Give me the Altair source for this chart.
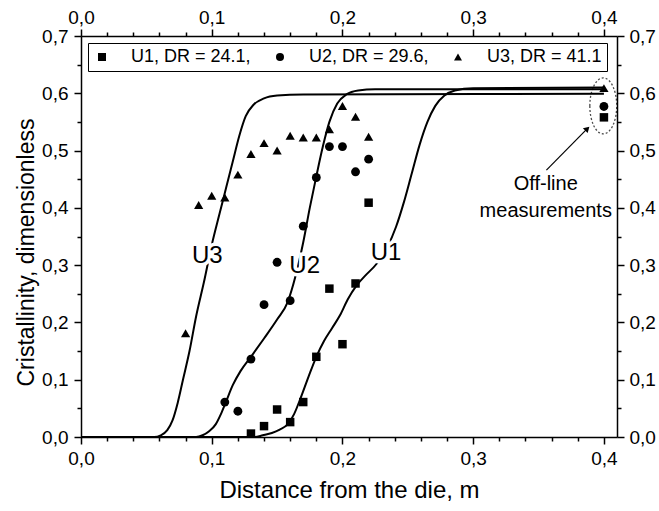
import altair as alt
import pandas as pd

FONT = "Liberation Sans"

# ---------------- measured points ----------------
u1_x = [0.13, 0.14, 0.15, 0.16, 0.17, 0.18, 0.19, 0.20, 0.21, 0.22]
u1_y = [0.006, 0.019, 0.048, 0.026, 0.061, 0.140, 0.259, 0.162, 0.268, 0.409]
u2_x = [0.11, 0.12, 0.13, 0.14, 0.15, 0.16, 0.17, 0.18, 0.19, 0.20, 0.21, 0.22]
u2_y = [0.061, 0.045, 0.136, 0.231, 0.305, 0.238, 0.368, 0.453, 0.507, 0.507, 0.463, 0.485]
u3_x = [0.08, 0.09, 0.10, 0.11, 0.12, 0.13, 0.14, 0.15, 0.16, 0.17, 0.18, 0.19, 0.20, 0.21, 0.22]
u3_y = [0.181, 0.405, 0.421, 0.418, 0.458, 0.494, 0.513, 0.500, 0.526, 0.523, 0.523, 0.537, 0.578, 0.559, 0.524]
offline_x = [0.40, 0.40, 0.40]
offline_y = [0.558, 0.577, 0.609]

# ---------------- model curves ----------------
c1_x = [0.0, 0.133, 0.139, 0.146, 0.152, 0.158, 0.163, 0.168, 0.174, 0.180, 0.186, 0.192, 0.198,
        0.204, 0.211, 0.218, 0.226, 0.234, 0.241, 0.247, 0.253, 0.259, 0.265, 0.271, 0.278,
        0.286, 0.300, 0.400]
c1_y = [0.0, 0.0, 0.003, 0.007, 0.013, 0.022, 0.040, 0.068, 0.105, 0.140, 0.168, 0.190, 0.212,
        0.240, 0.265, 0.283, 0.302, 0.330, 0.367, 0.410, 0.460, 0.510, 0.550, 0.578, 0.596,
        0.605, 0.609, 0.610]
c2_x = [0.0, 0.088, 0.093, 0.098, 0.103, 0.107, 0.111, 0.116, 0.122, 0.130, 0.140, 0.150, 0.158,
        0.164, 0.170, 0.175, 0.180, 0.185, 0.190, 0.196, 0.203, 0.212, 0.225, 0.400]
c2_y = [0.0, 0.0, 0.003, 0.010, 0.022, 0.040, 0.062, 0.090, 0.115, 0.140, 0.172, 0.205, 0.235,
        0.280, 0.340, 0.400, 0.455, 0.507, 0.550, 0.582, 0.598, 0.605, 0.607, 0.607]
c3_x = [0.0, 0.056, 0.061, 0.066, 0.070, 0.074, 0.078, 0.083, 0.088, 0.094, 0.100, 0.106, 0.111,
        0.116, 0.121, 0.126, 0.132, 0.140, 0.150, 0.170, 0.400]
c3_y = [0.0, 0.0, 0.003, 0.012, 0.029, 0.060, 0.100, 0.150, 0.210, 0.270, 0.335, 0.390, 0.435,
        0.480, 0.525, 0.560, 0.580, 0.591, 0.596, 0.598, 0.599]

series_names = ["U1", "U2", "U3"]
legend_labels = ["U1, DR = 24.1,", "U2, DR = 29.6,", "U3, DR = 41.1"]
marker_shapes = ["square", "circle", "triangle-up"]
marker_sizes = [72, 85, 100]

# curve labels
curve_label_text = ["U1", "U2", "U3"]
curve_label_x = [0.2333, 0.1711, 0.0966]
curve_label_y = [0.309, 0.286, 0.303]

# annotation
note_text = ["Off-line\nmeasurements"]
note_x = [0.3555]
note_y = [0.431]
ellipse_x = [0.3995]
ellipse_y = [0.578]
arrow_x = [0.356]
arrow_y = [0.466]
arrow_x2 = [0.3873]
arrow_y2 = [0.5382]

# axis ticks
x_major = [0.0, 0.1, 0.2, 0.3, 0.4]
x_minor = [0.02, 0.04, 0.06, 0.08, 0.12, 0.14, 0.16, 0.18, 0.22, 0.24, 0.26, 0.28,
           0.32, 0.34, 0.36, 0.38]
y_major = [0.0, 0.1, 0.2, 0.3, 0.4, 0.5, 0.6, 0.7]
y_minor = [0.05, 0.15, 0.25, 0.35, 0.45, 0.55, 0.65]

# ---------------- tables ----------------
rows = []
for name, xs_, ys_ in zip(series_names, [c1_x, c2_x, c3_x], [c1_y, c2_y, c3_y]):
    for i, (a, b) in enumerate(zip(xs_, ys_)):
        rows.append({"series": name, "x": a, "y": b, "order": i})
curves_df = pd.DataFrame(rows)

prow = []
for name, lab, xs_, ys_ in zip(series_names, legend_labels, [u1_x, u2_x, u3_x], [u1_y, u2_y, u3_y]):
    for a, b in zip(xs_, ys_):
        prow.append({"series": name, "label": lab, "x": a, "y": b})
for name, lab, a, b in zip(series_names, legend_labels, offline_x, offline_y):
    prow.append({"series": name, "label": lab, "x": a, "y": b})
points_df = pd.DataFrame(prow)

labels_df = pd.DataFrame({"text": curve_label_text, "x": curve_label_x, "y": curve_label_y})
note_df = pd.DataFrame({"text": note_text, "x": note_x, "y": note_y})
ellipse_df = pd.DataFrame({"x": ellipse_x, "y": ellipse_y})
arrow_df = pd.DataFrame({"x": arrow_x, "y": arrow_y, "x2": arrow_x2, "y2": arrow_y2})

xs = alt.Scale(domain=[0, 0.41], nice=False, zero=False)
ys = alt.Scale(domain=[0, 0.7], nice=False, zero=False)

labexpr = "replace(format(datum.value, '.1f'), '.', ',')"
major_style = dict(domainColor="black", domainWidth=1.5, tickColor="black", tickWidth=1.5,
                   labelColor="black", labelFont=FONT, labelFontSize=19, grid=False,
                   labelFlush=False, labelOverlap=False, tickSize=7, labelExpr=labexpr)
minor_style = dict(domain=False, tickColor="black", tickWidth=1.5, labels=False,
                   grid=False, tickSize=4, title=None)


def X(axis):
    return alt.X("x:Q", scale=xs, axis=axis)


def Y(axis):
    return alt.Y("y:Q", scale=ys, axis=axis)


lines = alt.Chart(curves_df).mark_line(color="black", strokeWidth=2, interpolate="monotone").encode(
    x=X(alt.Axis(orient="bottom", values=x_major, labelPadding=5,
                 title="Distance from the die, m", titleFont=FONT, titleFontSize=24,
                 titleFontWeight="normal", titleColor="black", titlePadding=10, **major_style)),
    y=Y(alt.Axis(orient="left", values=y_major, labelPadding=6,
                 title="Cristallinity, dimensionless", titleFont=FONT, titleFontSize=23,
                 titleFontWeight="normal", titleColor="black", titlePadding=3, titleY=216,
                 **major_style)),
    detail="series:N",
    order="order:Q",
)

points = alt.Chart(points_df).mark_point(filled=True, color="black", opacity=1).encode(
    x=X(None),
    y=Y(None),
    shape=alt.Shape("label:N", scale=alt.Scale(domain=legend_labels, range=marker_shapes),
                    legend=alt.Legend(orient="none", legendX=7, legendY=7, direction="horizontal",
                                      title=None, strokeColor="black", fillColor="white",
                                      padding=5, labelFont=FONT, labelFontSize=18,
                                      labelColor="black", labelLimit=400, symbolSize=64,
                                      symbolFillColor="black", symbolStrokeColor="black",
                                      symbolStrokeWidth=0, labelOffset=20, columnPadding=20)),
    size=alt.Size("series:N", scale=alt.Scale(domain=series_names, range=marker_sizes), legend=None),
)

halo = alt.Chart(labels_df).mark_text(font=FONT, fontSize=24, align="center", baseline="alphabetic",
                                      color="white", stroke="white", strokeWidth=7).encode(
    x=X(None), y=Y(None), text="text:N")
clabels = alt.Chart(labels_df).mark_text(font=FONT, fontSize=24, align="center",
                                         baseline="alphabetic", color="black").encode(
    x=X(None), y=Y(None), text="text:N")

ELLIPSE = "M -0.48 0 A 0.48 1 0 1 0 0.48 0 A 0.48 1 0 1 0 -0.48 0 Z"
ellipse = alt.Chart(ellipse_df).mark_point(shape=ELLIPSE, size=3136, filled=False, color="black",
                                           strokeWidth=1.3, strokeDash=[2, 2]).encode(
    x=X(None), y=Y(None))
arrow = alt.Chart(arrow_df).mark_rule(color="black", strokeWidth=1.2).encode(
    x=X(None), y=Y(None), x2="x2:Q", y2="y2:Q")
arrowhead = alt.Chart(arrow_df).mark_point(shape="triangle-up", angle=45, size=45, filled=True,
                                           color="black", opacity=1).encode(
    x=alt.X("x2:Q", scale=xs, axis=None), y=alt.Y("y2:Q", scale=ys, axis=None))
note = alt.Chart(note_df).mark_text(font=FONT, fontSize=20, align="center", baseline="alphabetic",
                                    lineBreak="\n", lineHeight=26.7, color="black").encode(
    x=X(None), y=Y(None), text="text:N")

ax_base = alt.Chart(curves_df).mark_point(opacity=0)
ax_minor1 = ax_base.encode(
    x=X(alt.Axis(orient="bottom", values=x_minor, **minor_style)),
    y=Y(alt.Axis(orient="left", values=y_minor, **minor_style)))
ax_top = ax_base.encode(
    x=X(alt.Axis(orient="top", values=x_major, labelPadding=2, title=None, **major_style)),
    y=Y(alt.Axis(orient="right", values=y_major, labelPadding=5, title=None, **major_style)))
ax_minor2 = ax_base.encode(
    x=X(alt.Axis(orient="top", values=x_minor, **minor_style)),
    y=Y(alt.Axis(orient="right", values=y_minor, **minor_style)))

chart = alt.layer(
    lines, halo, clabels, points, ellipse, arrow, arrowhead, note, ax_minor1, ax_top, ax_minor2
).resolve_axis(x="independent", y="independent").properties(
    width=536, height=401,
    padding={"left": 81, "top": 36, "right": 42, "bottom": 74},
    autosize=alt.AutoSizeParams(type="none"),
    background="white",
).configure_view(stroke=None)

chart.save("out.html", embed_options={"renderer": "svg", "actions": False})
